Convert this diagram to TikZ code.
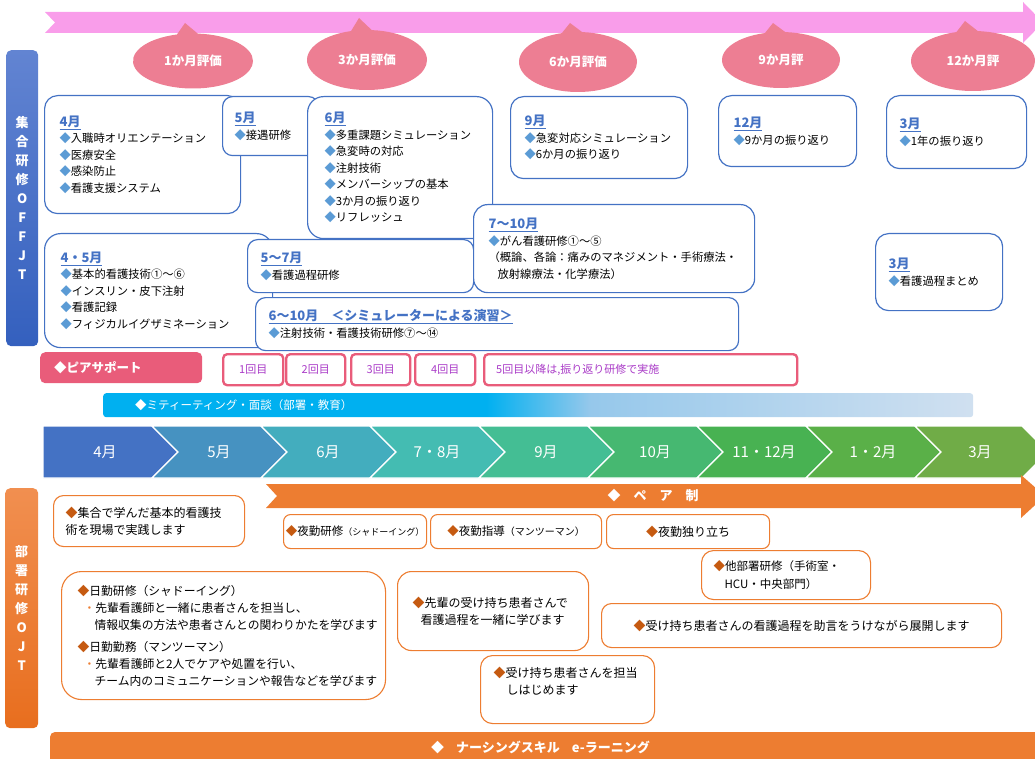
\documentclass[tikz,border=0pt]{standalone}
\usepackage{fontspec}
\setmainfont{Noto Sans CJK JP}
\usetikzlibrary{shapes.callouts}

\definecolor{boxblue}{RGB}{68,114,196}
\definecolor{bulletblue}{RGB}{91,155,213}
\definecolor{evalpink}{RGB}{237,126,147}
\definecolor{arrowpink}{RGB}{249,157,234}
\definecolor{peerpink}{RGB}{233,92,122}
\definecolor{kaipurple}{RGB}{170,60,200}
\definecolor{ojtorange}{RGB}{237,125,49}
\definecolor{bulletorange}{RGB}{197,90,17}
\definecolor{meetcyan}{RGB}{0,176,240}
\definecolor{meetmid}{RGB}{150,200,235}
\definecolor{meetlight}{RGB}{208,224,240}
\definecolor{offtop}{RGB}{98,132,210}
\definecolor{offbottom}{RGB}{52,96,190}
\definecolor{ojttop}{RGB}{241,143,80}
\definecolor{ojtbottom}{RGB}{232,110,30}
\definecolor{monA}{RGB}{68,114,196}
\definecolor{monB}{RGB}{70,146,193}
\definecolor{monC}{RGB}{67,173,190}
\definecolor{monD}{RGB}{68,188,178}
\definecolor{monE}{RGB}{68,190,148}
\definecolor{monF}{RGB}{70,184,113}
\definecolor{monG}{RGB}{72,178,82}
\definecolor{monH}{RGB}{90,176,72}
\definecolor{monI}{RGB}{112,172,71}

\pgfdeclarehorizontalshading{meetshade}{100bp}{color(0bp)=(meetcyan); color(47bp)=(meetcyan); color(53bp)=(meetmid); color(75bp)=(meetlight); color(100bp)=(meetlight)}

\newcommand{\bbul}{{\color{bulletblue}◆}}
\newcommand{\obul}{{\color{bulletorange}◆}}
\newcommand{\ojtdot}{{\color{ojtorange}・}}
\newcommand{\ttl}[1]{{\fontsize{13}{16}\selectfont\bfseries\color{boxblue}\underline{#1}}}
\newcommand{\offsize}{\fontsize{11.3}{16.5}\selectfont}
\newcommand{\ojtsize}{\fontsize{12}{17}\selectfont}

\begin{document}
\begin{tikzpicture}[x=1pt, y=-1pt,
		offbox/.style={draw=boxblue, line width=1.2pt, fill=white, rounded corners=13pt, anchor=north west, align=left, inner xsep=15pt, inner ysep=0pt, font=\offsize},
		ojtbox/.style={draw=ojtorange, line width=1.1pt, fill=white, rounded corners=10pt, anchor=north west, align=left, inner xsep=12pt, inner ysep=0pt, font=\ojtsize},
		kaibox/.style={draw=peerpink, line width=2.4pt, fill=white, rounded corners=4pt, anchor=north west, minimum height=31pt, inner sep=0pt, text=kaipurple, font=\fontsize{11}{13}\selectfont},
		evalcall/.style={ellipse callout, fill=evalpink, text=white, inner sep=0pt, callout pointer arc=20, font=\fontsize{12.5}{14}\selectfont\bfseries},
		sidebar/.style={rounded corners=5pt, anchor=north west, inner sep=0pt, align=center, text=white, font=\fontsize{13}{19}\selectfont\bfseries},
		chev/.style={draw=white, line width=1.2pt},
		monthtxt/.style={text=white, font=\fontsize{15}{17}\selectfont},
		whitetxt/.style={text=white, anchor=west, inner sep=0pt}
		]
	\useasboundingbox (0,0) rectangle (1035,759);

	% evaluation timeline
	\fill[arrowpink] (45,12) -- (1023,12) -- (1023,2) -- (1043,22.5) -- (1023,43) -- (1023,33) -- (45,33) -- (55,22.5) -- cycle;
	\node[evalcall, minimum width=120pt, minimum height=55pt, callout absolute pointer={(185,23)}] (eval1) at (193,61) {1か月評価};
	\node[evalcall, minimum width=120pt, minimum height=60pt, callout absolute pointer={(359,18)}] (eval2) at (367,60) {3か月評価};
	\node[evalcall, minimum width=118pt, minimum height=60pt, callout absolute pointer={(570,23)}] (eval3) at (578,62) {6か月評価};
	\node[evalcall, minimum width=118pt, minimum height=56pt, callout absolute pointer={(773,23)}] (eval4) at (781,60) {9か月評};
	\node[evalcall, minimum width=124pt, minimum height=60pt, callout absolute pointer={(965,21)}] (eval5) at (973,61) {12か月評};

	% side labels
	\node[sidebar, top color=offtop, bottom color=offbottom, minimum width=32pt, minimum height=296pt] (offjt) at (6,50) {集\\合\\研\\修\\O\\F\\F\\J\\T};
	\node[sidebar, top color=ojttop, bottom color=ojtbottom, minimum width=33pt, minimum height=240pt] (ojt) at (5,488) {部\\署\\研\\修\\O\\J\\T};

	% OFF-JT
	\node[offbox, minimum width=196pt, minimum height=118pt, text width=166pt] (apr) at (44,95) {\ttl{4月}\\\bbul 入職時オリエンテーション\\\bbul 医療安全\\\bbul 感染防止\\\bbul 看護支援システム};
	\node[offbox, inner xsep=12pt, rounded corners=10pt, minimum width=96pt, minimum height=59pt, text width=72pt] (may) at (222,96) {\ttl{5月}\\\bbul 接遇研修};
	\node[offbox, inner xsep=17pt, rounded corners=16pt, minimum width=185pt, minimum height=142pt, text width=151pt] (jun) at (307,96) {\ttl{6月}\\\bbul 多重課題シミュレーション\\\bbul 急変時の対応\\\bbul 注射技術\\\bbul メンバーシップの基本\\\bbul 3か月の振り返り\\\bbul リフレッシュ};
	\node[offbox, inner xsep=14pt, minimum width=177pt, minimum height=82pt, text width=149pt] (sep) at (510,96) {\ttl{9月}\\\bbul 急変対応シミュレーション\\\bbul 6か月の振り返り};
	\node[offbox, minimum width=138pt, minimum height=71pt, text width=108pt] (dec) at (718,95) {\ttl{12月}\\\bbul 9か月の振り返り};
	\node[offbox, inner xsep=13pt, minimum width=140pt, minimum height=73pt, text width=114pt] (mar) at (886,95) {\ttl{3月}\\\bbul 1年の振り返り};
	\node[offbox, inner xsep=16pt, rounded corners=16pt, minimum width=228pt, minimum height=114pt, text width=196pt] (aprmay) at (44,233) {\ttl{4・5月}\\\bbul 基本的看護技術①～⑥\\\bbul インスリン・皮下注射\\\bbul 看護記録\\\bbul フィジカルイグザミネーション};
	\node[offbox, inner xsep=13pt, rounded corners=10pt, minimum width=226pt, minimum height=53pt, text width=200pt] (mayjul) at (247,239) {\ttl{5～7月}\\\bbul 看護過程研修};
	\node[offbox, inner xsep=13pt, rounded corners=10pt, minimum width=483pt, minimum height=53pt, text width=457pt] (junoct) at (255,297) {\ttl{6～10月　＜シミュレーターによる演習＞}\\\bbul 注射技術・看護技術研修⑦～⑭};
	\node[offbox, rounded corners=14pt, minimum width=281pt, minimum height=88pt, text width=251pt] (julocta) at (473,204) {\ttl{7～10月}\\\bbul がん看護研修①～⑤\\（概論、各論：痛みのマネジメント・手術療法・\\\hspace*{9pt}放射線療法・化学療法）};
	\node[offbox, inner xsep=13pt, minimum width=127pt, minimum height=77pt, text width=101pt] (marb) at (875,233) {\ttl{3月}\\\bbul 看護過程まとめ};

	% peer support
	\node[fill=peerpink, rounded corners=5pt, anchor=north west, minimum width=162pt, minimum height=31pt, inner xsep=14pt, text width=134pt, align=left, text=white, font=\fontsize{12.5}{14}\selectfont\bfseries] (peer) at (40,352) {◆ピアサポート};
	\node[kaibox, minimum width=60pt] (kai1) at (222,353) {1回目};
	\node[kaibox, minimum width=59pt] (kai2) at (285,353) {2回目};
	\node[kaibox, minimum width=59pt] (kai3) at (350,353) {3回目};
	\node[kaibox, minimum width=60pt] (kai4) at (414,353) {4回目};
	\node[kaibox, minimum width=313pt, text width=289pt, align=left] (kai5) at (483,353) {5回目以降は,振り返り研修で実施};

	% meeting
	\node[shade, shading=meetshade, rounded corners=3pt, anchor=north west, minimum width=870pt, minimum height=24pt, inner sep=0pt] (meetbar) at (103,393) {};
	\node[whitetxt, font=\fontsize{11.5}{13}\selectfont] (meet) at (135,405) {◆ミティーティング・面談（部署・教育）};

	% months
	\fill[monA, chev] (43,426) -- (152,426) -- (178,452) -- (152,478) -- (43,478) -- cycle;
	\fill[monB, chev] (152,426) -- (261,426) -- (287,452) -- (261,478) -- (152,478) -- (178,452) -- cycle;
	\fill[monC, chev] (261,426) -- (370,426) -- (396,452) -- (370,478) -- (261,478) -- (287,452) -- cycle;
	\fill[monD, chev] (370,426) -- (479,426) -- (505,452) -- (479,478) -- (370,478) -- (396,452) -- cycle;
	\fill[monE, chev] (479,426) -- (588,426) -- (614,452) -- (588,478) -- (479,478) -- (505,452) -- cycle;
	\fill[monF, chev] (588,426) -- (697,426) -- (723,452) -- (697,478) -- (588,478) -- (614,452) -- cycle;
	\fill[monG, chev] (697,426) -- (806,426) -- (832,452) -- (806,478) -- (697,478) -- (723,452) -- cycle;
	\fill[monH, chev] (806,426) -- (915,426) -- (941,452) -- (915,478) -- (806,478) -- (832,452) -- cycle;
	\fill[monI, chev] (915,426) -- (1022,426) -- (1048,452) -- (1022,478) -- (915,478) -- (941,452) -- cycle;
	\node[monthtxt] (m4) at (105,452) {4月};
	\node[monthtxt] (m5) at (219,452) {5月};
	\node[monthtxt] (m6) at (328,452) {6月};
	\node[monthtxt] (m78) at (437,452) {7・8月};
	\node[monthtxt] (m9) at (546,452) {9月};
	\node[monthtxt] (m10) at (655,452) {10月};
	\node[monthtxt] (m1112) at (764,452) {11・12月};
	\node[monthtxt] (m12) at (873,452) {1・2月};
	\node[monthtxt] (m3) at (980,452) {3月};

	% pair system
	\fill[ojtorange] (266,484) -- (1021,484) -- (1021,475) -- (1045,496) -- (1021,518) -- (1021,508) -- (266,508) -- (277,496) -- cycle;
	\node[text=white, font=\fontsize{13}{15}\selectfont\bfseries] (pair) at (653,496) {◆　ペ　ア　制};

	% OJT
	\node[ojtbox, minimum width=191pt, minimum height=51pt, text width=167pt] (ojtbase) at (53,495) {\obul 集合で学んだ基本的看護技\\術を現場で実践します};
	\node[ojtbox, inner xsep=0pt, rounded corners=7pt, align=center, minimum width=143pt, minimum height=34pt] (night1) at (283,514) {\fontsize{11.5}{13}\selectfont\obul 夜勤研修{\fontsize{9}{11}\selectfont（シャドーイング）}};
	\node[ojtbox, inner xsep=0pt, rounded corners=7pt, align=center, minimum width=171pt, minimum height=34pt] (night2) at (430,514) {\fontsize{11.5}{13}\selectfont\obul 夜勤指導{\fontsize{10}{12}\selectfont（マンツーマン）}};
	\node[ojtbox, inner xsep=0pt, rounded corners=7pt, align=center, minimum width=163pt, minimum height=34pt] (night3) at (606,514) {\obul 夜勤独り立ち};
	\node[ojtbox, rounded corners=12pt, minimum width=169pt, minimum height=49pt, text width=145pt, font=\fontsize{11.5}{18}\selectfont] (otherdept) at (701,550) {\obul 他部署研修（手術室・\\\hspace*{11pt}HCU・中央部門）};
	\node[ojtbox, inner xsep=16pt, rounded corners=20pt, minimum width=324pt, minimum height=128pt, text width=292pt, font=\fontsize{11.8}{17}\selectfont] (dayshift) at (61,571) {\obul 日勤研修（シャドーイング）\\\hspace*{6pt}\ojtdot 先輩看護師と一緒に患者さんを担当し、\\\hspace*{17pt}情報収集の方法や患者さんとの関わりかたを学びます\\[5pt]\obul 日勤勤務（マンツーマン）\\\hspace*{6pt}\ojtdot 先輩看護師と2人でケアや処置を行い、\\\hspace*{17pt}チーム内のコミュニケーションや報告などを学びます};
	\node[ojtbox, inner xsep=15pt, rounded corners=14pt, minimum width=191pt, minimum height=79pt, text width=161pt] (senior) at (397,571) {\obul 先輩の受け持ち患者さんで\\\hspace*{8pt}看護過程を一緒に学びます};
	\node[ojtbox, align=center, minimum width=400pt, minimum height=44pt] (develop) at (601,603) {\obul 受け持ち患者さんの看護過程を助言をうけながら展開します};
	\node[ojtbox, inner xsep=13pt, rounded corners=12pt, minimum width=174pt, minimum height=68pt, text width=148pt] (charge) at (480,655) {\obul 受け持ち患者さんを担当\\\hspace*{13pt}しはじめます\\\mbox{}};

	% e-learning
	\fill[ojtorange, rounded corners=5pt] (50,732) rectangle (1045,765);
	\node[whitetxt, font=\fontsize{13}{15}\selectfont\bfseries] (elearn) at (431,747) {◆\hspace{12pt}ナーシングスキル\hspace{12pt}e-ラーニング};
\end{tikzpicture}
\end{document}
